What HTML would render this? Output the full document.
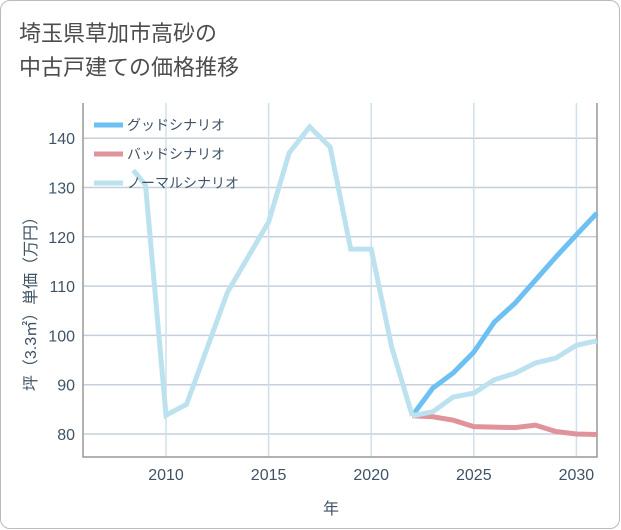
<!DOCTYPE html>
<html><head><meta charset="utf-8"><style>
body{margin:0;background:#fff;font-family:"Liberation Sans","Noto Sans CJK JP",sans-serif;}
#wrap{position:relative;width:618px;height:527px;border:1.5px solid #bbb;border-radius:10px;overflow:hidden;background:#fff}
#title{position:absolute;left:18px;top:16px;font-size:22px;line-height:34px;color:#4d4d4d}
</style></head><body>
<div id="wrap">
<div id="title">埼玉県草加市高砂の<br>中古戸建ての価格推移</div>
<svg id="chart" width="621" height="530" style="position:absolute;left:-1.5px;top:-1.5px"></svg>
</div>
<script>
const years=[2008.4,2009,2010,2011,2013,2015,2016,2017,2018,2019,2020,2021,2022];
const histVals=[133.5,130.5,83.8,86,108.8,123,137,142.3,138.2,117.5,117.5,97.6,83.7];
const futYears=[2022,2023,2024,2025,2026,2027,2028,2029,2030,2031];
const goodVals=[83.7,89.3,92.4,96.6,102.7,106.5,111.2,115.9,120.4,124.8];
const badVals=[83.7,83.5,82.8,81.5,81.4,81.3,81.8,80.5,80,79.9];
const normVals=[83.7,84.5,87.5,88.3,91,92.3,94.4,95.4,98,98.9];
const xTicks=[2010,2015,2020,2025,2030];
const yTicks=[80,90,100,110,120,130,140];
const L=83,R=597,T=103,B=457;
const x=v=>166+(v-2010)*20.52;
const y=v=>434-(v-80)*4.93;
const svg=document.getElementById('chart');
const NS='http://www.w3.org/2000/svg';
const TXT='#3f5366';
function mk(t,a){const e=document.createElementNS(NS,t);for(const k in a)e.setAttribute(k,a[k]);svg.appendChild(e);return e;}
yTicks.forEach(v=>{
const g=mk('line',{x1:L,x2:R,y1:y(v),y2:y(v),stroke:'#c5d0dc','stroke-width':1.5});


const t=mk('text',{x:L-8,y:y(v)+6,'text-anchor':'end','font-size':16,fill:TXT});
t.textContent=v;


});
xTicks.forEach(v=>{
const g=mk('line',{x1:x(v),x2:x(v),y1:T,y2:B,stroke:'#cde0ec','stroke-width':1.5});


const t=mk('text',{x:x(v),y:B+23,'text-anchor':'middle','font-size':16,fill:TXT});
t.textContent=v;


});
const ax=mk('polyline',{points:`${L},${T} ${L},${B} ${R},${B} ${R},${T}`,fill:'none',stroke:'#999','stroke-width':1.5});


function line(xs,vs,c,name){
const p=mk('polyline',{points:xs.map((a,i)=>x(a)+','+y(vs[i])).join(' '),fill:'none',stroke:c,'stroke-width':5,'stroke-linejoin':'miter'});


}
line(futYears,badVals,'#e0939b','bad-scenario-line');
line(futYears,goodVals,'#6ec0f3','good-scenario-line');
line(years,histVals,'#bde2ef','normal-history-line');
line(futYears,normVals,'#bde2ef','normal-scenario-line');
const leg=[['グッドシナリオ','#6ec0f3'],['バッドシナリオ','#e0939b'],['ノーマルシナリオ','#bde2ef']];
leg.forEach((l,i)=>{
const yy=125+i*29;
const s=mk('line',{x1:94,x2:123,y1:yy,y2:yy,stroke:l[1],'stroke-width':5});


const t=mk('text',{x:127,y:yy+5,'font-size':14,fill:TXT});
t.textContent=l[0];


});
const xt=mk('text',{x:331,y:514,'text-anchor':'middle','font-size':16,fill:TXT});
xt.textContent='年';


const yt=mk('text',{x:0,y:0,'text-anchor':'middle','font-size':16,fill:TXT,transform:'translate(36,300) rotate(-90)'});
yt.textContent='坪（3.3㎡）単価（万円）';


</script>
</body></html>
